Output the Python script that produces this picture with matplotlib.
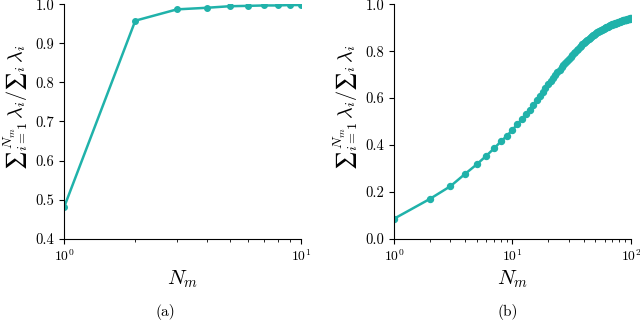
import numpy as np
import matplotlib
matplotlib.use('Agg')
import matplotlib.pyplot as plt
from matplotlib.ticker import NullFormatter

plt.rcParams['font.family'] = 'serif'
plt.rcParams['font.serif'] = ['cmr10', 'DejaVu Serif']
plt.rcParams['mathtext.fontset'] = 'cm'
plt.rcParams['axes.unicode_minus'] = False
plt.rcParams['axes.formatter.use_mathtext'] = True

teal = '#20b2aa'

# (a) explained variance, first 10 modes
n_a = list(range(1, 11))
ratio_a = [0.480, 0.958, 0.987, 0.991, 0.995, 0.996, 0.997, 0.997, 0.998, 0.998]

# (b) explained variance, first 100 modes
n_b = list(range(1, 101))
ratio_b = [
    0.085, 0.169, 0.224, 0.277, 0.317, 0.353, 0.385, 0.415, 0.439, 0.464,
    0.488, 0.510, 0.531, 0.551, 0.571, 0.590, 0.608, 0.626, 0.643, 0.659,
    0.673, 0.686, 0.698, 0.710, 0.721, 0.731, 0.741, 0.750, 0.759, 0.768,
    0.776, 0.784, 0.791, 0.798, 0.805, 0.811, 0.817, 0.823, 0.829, 0.834,
    0.839, 0.844, 0.849, 0.853, 0.857, 0.861, 0.865, 0.868, 0.871, 0.874,
    0.877, 0.880, 0.883, 0.886, 0.888, 0.890, 0.892, 0.894, 0.896, 0.898,
    0.900, 0.902, 0.904, 0.905, 0.907, 0.908, 0.910, 0.911, 0.913, 0.914,
    0.915, 0.917, 0.918, 0.919, 0.920, 0.921, 0.922, 0.923, 0.924, 0.925,
    0.926, 0.927, 0.928, 0.929, 0.930, 0.931, 0.931, 0.932, 0.933, 0.934,
    0.935, 0.935, 0.936, 0.937, 0.937, 0.938, 0.939, 0.939, 0.940, 0.941,
]

# unicode sum sign keeps the limits beside the symbol (inline style)
ylabel = r'$∑_{i=1}^{\,N_m}\,\lambda_i/∑_i\,\lambda_i$'

fig = plt.figure(figsize=(6.4, 3.22), dpi=100)
ax1 = fig.add_axes([0.100, 0.2587, 0.370, 0.728])
ax2 = fig.add_axes([0.6156, 0.2587, 0.370, 0.728])

ax1.plot(n_a, ratio_a, '-o', color=teal, lw=1.8, ms=4)
ax1.set_xscale('log')
ax1.set_xlim(1, 10)
ax1.set_ylim(0.4, 1.0)
ax1.set_yticks(np.arange(0.4, 1.01, 0.1))
ax1.set_yticklabels(['0.4', '0.5', '0.6', '0.7', '0.8', '0.9', '1.0'])

ax2.plot(n_b, ratio_b, '-o', color=teal, lw=1.8, ms=4.3)
ax2.set_xscale('log')
ax2.set_xlim(1, 100)
ax2.set_ylim(0.0, 1.0)
ax2.set_yticks(np.arange(0.0, 1.01, 0.2))
ax2.set_yticklabels(['0.0', '0.2', '0.4', '0.6', '0.8', '1.0'])

for ax in (ax1, ax2):
    ax.spines['top'].set_visible(False)
    ax.spines['right'].set_visible(False)
    ax.xaxis.set_minor_formatter(NullFormatter())
    ax.tick_params(axis='y', labelsize=10.5)
    ax.tick_params(axis='x', labelsize=9.8)
    ax.set_xlabel(r'$N_m$', fontsize=15)
    ax.set_ylabel(ylabel, fontsize=14.5)
    ax.yaxis.set_label_coords(-0.145, 0.56)
    ax.xaxis.set_label_coords(0.5, -0.125)

fig.text(0.258, 0.02, '(a)', ha='center', fontsize=11)
fig.text(0.794, 0.02, '(b)', ha='center', fontsize=11)

fig.savefig('out.png', dpi=100)
